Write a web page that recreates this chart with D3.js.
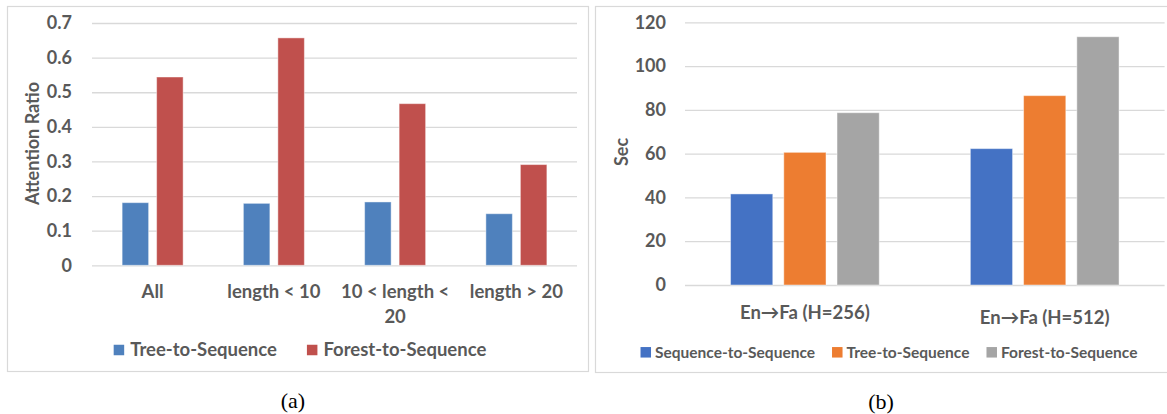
<!DOCTYPE html>
<html><head><meta charset="utf-8">
<script src="https://cdn.jsdelivr.net/npm/d3@7"></script>
<style>
body{margin:0;background:#fff}
svg text{font-family:Lato,'Open Sans',sans-serif;font-weight:bold;fill:#595959}
svg text.cap{font-family:'Liberation Serif','Times New Roman',serif;font-weight:normal;fill:#000}
</style>
</head><body>
<svg id="c" width="1167" height="414"></svg>
<script>
// ---- data: panel (a)
const catsA = ["All", "length < 10", "10 < length < 20", "length > 20"];
const seriesA = ["Tree-to-Sequence", "Forest-to-Sequence"];
const treeA = [0.181, 0.179, 0.183, 0.149];
const forestA = [0.544, 0.657, 0.467, 0.291];
const ticksA = [0, 0.1, 0.2, 0.3, 0.4, 0.5, 0.6, 0.7];
const titleA = "Attention Ratio";
// ---- data: panel (b)
const catsB = ["En\u2192Fa (H=256)", "En\u2192Fa (H=512)"];
const seriesB = ["Sequence-to-Sequence", "Tree-to-Sequence", "Forest-to-Sequence"];
const seqB = [41.6, 62.3];
const treeB = [60.6, 86.5];
const forestB = [78.7, 113.4];
const ticksB = [0, 20, 40, 60, 80, 100, 120];
const titleB = "Sec";

const svg = d3.select("#c");

function wrapLabel(textSel, maxW, lineH) {
  textSel.each(function() {
    const t = d3.select(this);
    const words = t.text().split(/\s+/);
    t.text(null);
    let line = [];
    let ts = t.append("tspan").attr("x", 0).attr("dy", 0);
    words.forEach(w => {
      line.push(w);
      ts.text(line.join(" "));
      if (ts.node().getComputedTextLength() > maxW && line.length > 1) {
        line.pop();
        ts.text(line.join(" "));
        line = [w];
        ts = t.append("tspan").attr("x", 0).attr("dy", lineH).text(w);
      }
    });
  });
}

function panel(cfg) {
  const g = svg.append("g");
  g.append("rect").attr("x", cfg.box[0]).attr("y", cfg.box[1])
    .attr("width", cfg.box[2]).attr("height", cfg.box[3])
    .attr("fill", "none").attr("stroke", "#D9D9D9").attr("stroke-width", 1.2);

  const y = d3.scaleLinear().domain(cfg.ydom).range([cfg.y0, cfg.y1]);
  const x = d3.scaleBand().domain(cfg.cats).range([cfg.x0, cfg.x1]);
  const bw = x.bandwidth();
  const gw = bw * cfg.groupFrac;
  const x1 = d3.scaleBand().domain(cfg.series)
    .range([(bw - gw) / 2, (bw + gw) / 2]).paddingInner(cfg.pin);

  const ax = g.append("g").attr("transform", `translate(${cfg.x0},0)`)
    .call(d3.axisLeft(y).tickValues(cfg.ticks).tickSize(-(cfg.x1 - cfg.x0))
      .tickPadding(cfg.tickPad).tickFormat(cfg.fmt));
  ax.select(".domain").remove();
  ax.attr("font-family", null).attr("font-size", null);
  ax.selectAll(".tick line").attr("stroke", "#D9D9D9").attr("stroke-width", 1.3);
  ax.selectAll(".tick text").attr("font-size", cfg.tickFs).attr("fill", "#595959");

  cfg.series.forEach((s, si) => {
    g.append("g").selectAll("rect").data(cfg.values[si]).join("rect")
      .attr("x", (d, i) => x(cfg.cats[i]) + x1(s))
      .attr("y", d => y(d))
      .attr("width", x1.bandwidth())
      .attr("height", d => y(0) - y(d))
      .attr("fill", cfg.colors[si])
      .attr("stroke", "rgba(255,255,255,0.45)").attr("stroke-width", 1);
  });

  const cl = g.append("g").selectAll("text").data(cfg.cats).join("text")
    .attr("transform", (d, i) => `translate(${x(d) + bw / 2},${cfg.labY + (cfg.labDy ? cfg.labDy[i] : 0)})`)
    .attr("text-anchor", "middle").attr("font-size", cfg.labFs)
    .text(d => d);
  wrapLabel(cl, bw - 8, cfg.labLineH);

  g.append("text").attr("transform", `translate(${cfg.titleX},${cfg.titleY}) rotate(-90)`)
    .attr("text-anchor", "middle").attr("dy", "0.35em").attr("font-size", cfg.titleFs)
    .text(cfg.title);

  const lg = g.append("g");
  let cx = 0;
  cfg.series.forEach((s, si) => {
    const it = lg.append("g");
    it.append("rect").attr("x", 0).attr("y", -cfg.sq / 2).attr("width", cfg.sq).attr("height", cfg.sq)
      .attr("fill", cfg.colors[si]);
    const t = it.append("text").attr("x", cfg.sq + cfg.sqGap).attr("dy", "0.35em")
      .attr("font-size", cfg.legFs).text(s);
    const w = cfg.sq + cfg.sqGap + t.node().getComputedTextLength();
    it.attr("transform", `translate(${cx},${cfg.legY})`);
    cx += w + cfg.itemGap;
  });
  const total = cx - cfg.itemGap;
  lg.attr("transform", `translate(${cfg.legCx - total / 2},0)`);

  g.append("text").attr("class", "cap").attr("x", cfg.capX).attr("y", cfg.capY)
    .attr("text-anchor", "middle").attr("dy", "0.35em").attr("font-size", 22).text(cfg.cap);
}

panel({
  box: [7.5, 6.5, 581, 365],
  cats: catsA, series: seriesA, values: [treeA, forestA],
  colors: ["#4F81BD", "#C0504D"],
  ydom: [0, 0.7], y0: 265.3, y1: 23, x0: 92, x1: 577,
  ticks: ticksA, fmt: d => d === 0 ? "0" : d3.format(".1f")(d),
  groupFrac: 61 / 121.25, pin: 8 / 34.5,
  tickPad: 20, tickFs: 18,
  labY: 298, labFs: 18.5, labLineH: 25,
  title: titleA, titleX: 33, titleY: 143.5, titleFs: 18,
  sq: 10.5, sqGap: 6, legFs: 18.5, legY: 350, legCx: 300, itemGap: 30,
  cap: "(a)", capX: 293, capY: 400
});

panel({
  box: [595.5, 6.5, 600, 366],
  cats: catsB, series: seriesB, values: [seqB, treeB, forestB],
  colors: ["#4472C4", "#ED7D31", "#A5A5A5"],
  ydom: [0, 120], y0: 285, y1: 22.3, x0: 685, x1: 1164.6,
  ticks: ticksB, fmt: d3.format("d"),
  groupFrac: 148.7 / 239.8, pin: 11 / 53.2,
  tickPad: 19, tickFs: 18,
  labY: 319, labDy: [0, 5], labFs: 18.5, labLineH: 25,
  title: titleB, titleX: 622, titleY: 152, titleFs: 18,
  sq: 10.5, sqGap: 4, legFs: 15.5, legY: 352.3, legCx: 889, itemGap: 17,
  cap: "(b)", capX: 881, capY: 401.7
});
</script>
</body></html>
